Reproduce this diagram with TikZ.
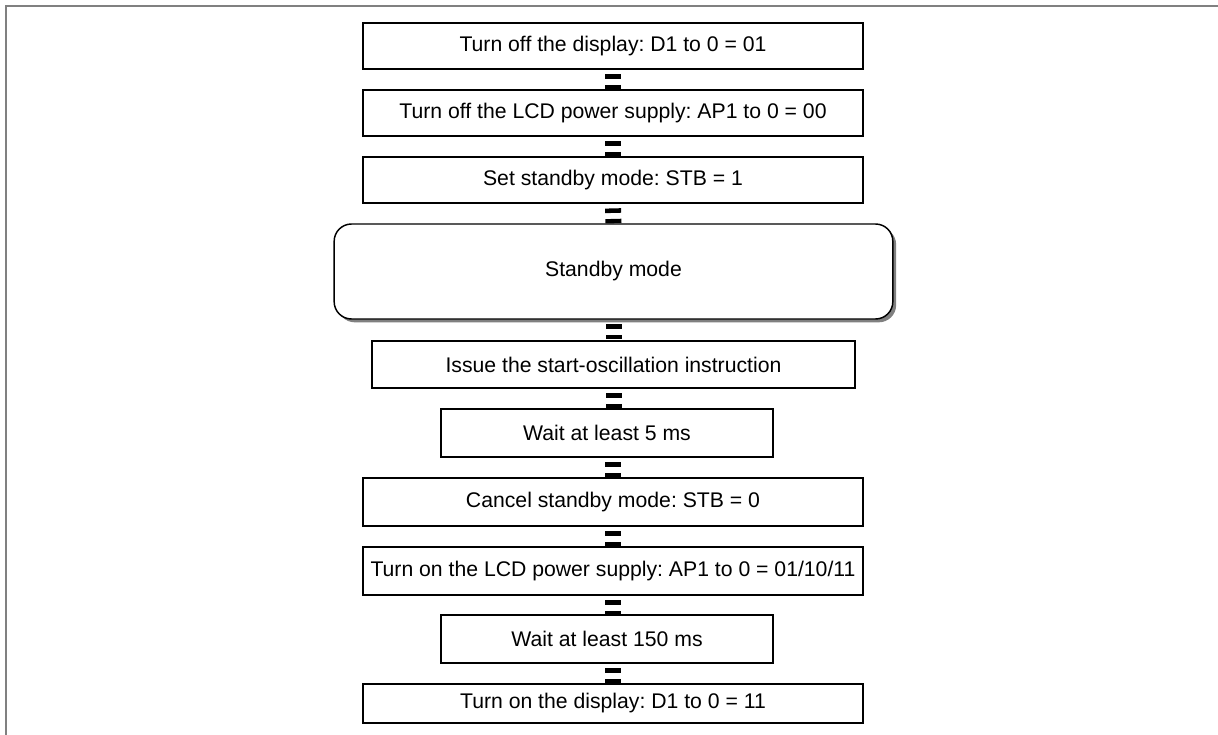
\documentclass[tikz,border=0pt]{standalone}
\usepackage{fontspec}
\setmainfont{Liberation Sans}
\frenchspacing
\usetikzlibrary{shadows}

\begin{document}
\begin{tikzpicture}[x=0.75pt,y=-0.75pt]
        \useasboundingbox (0,0) rectangle (1218,735);
        \tikzset{StepBox/.style={draw, line width=1.1pt, minimum height=34.5pt,
        inner sep=0pt, font=\fontsize{15.9}{19}\selectfont}}
        \tikzset{ModeBox/.style={StepBox, rounded corners=13pt,
        fill=white, drop shadow={shadow xshift=2.5pt, shadow yshift=-2.5pt,
        fill=black!50, opacity=1}}}
        \tikzset{LinkStyle/.style={line width=12pt, line cap=butt,
        dash pattern=on 0pt off 3.5pt on 3.4pt off 4.5pt on 3.4pt off 20pt}}
        % frame
        \draw[gray, line width=1.5pt] (6,735) -- (6,6) -- (1218,6);
        % steps
        \node[StepBox, minimum width=375pt] (DispOff) at (613,46) {Turn off the display: D1 to 0 = 01};
        \node[StepBox, minimum width=375pt] (LcdOff) at (613,113) {Turn off the LCD power supply: AP1 to 0 = 00};
        \node[StepBox, minimum width=375pt] (StbSet) at (613,180) {Set standby mode: STB = 1};
        \node[ModeBox, minimum width=419pt, minimum height=71.25pt] (Standby) at (613.5,271.5) {Standby mode};
        \node[StepBox, minimum width=362pt, minimum height=35.25pt] (Osc) at (613.5,364.5) {Issue the start-oscillation instruction};
        \node[StepBox, minimum width=249pt, minimum height=36pt] (WaitA) at (607,433) {Wait at least 5 ms};
        \node[StepBox, minimum width=375pt, minimum height=36pt] (StbClr) at (613,502) {Cancel standby mode: STB = 0};
        \node[StepBox, minimum width=375pt, minimum height=36pt] (LcdOn) at (613,571) {Turn on the LCD power supply: AP1 to 0 = 01/10/11};
        \node[StepBox, minimum width=249pt, minimum height=36pt] (WaitB) at (607,639) {Wait at least 150 ms};
        \node[StepBox, minimum width=375pt, minimum height=29.25pt] (DispOn) at (613,703.5) {Turn on the display: D1 to 0 = 11};
        % links
        \draw[LinkStyle] (DispOff.south) -- (LcdOff.north);
        \draw[LinkStyle] (LcdOff.south) -- (StbSet.north);
        \draw[LinkStyle] (StbSet.south) -- (Standby.north);
        \draw[LinkStyle] (Standby.south) -- (Osc.north);
        \draw[LinkStyle] (Osc.south) -- (Osc.south |- WaitA.north);
        \draw[LinkStyle] (StbClr.north |- WaitA.south) -- (StbClr.north);
        \draw[LinkStyle] (StbClr.south) -- (LcdOn.north);
        \draw[LinkStyle] (LcdOn.south) -- (LcdOn.south |- WaitB.north);
        \draw[LinkStyle] (DispOn.north |- WaitB.south) -- (DispOn.north);
\end{tikzpicture}
\end{document}
